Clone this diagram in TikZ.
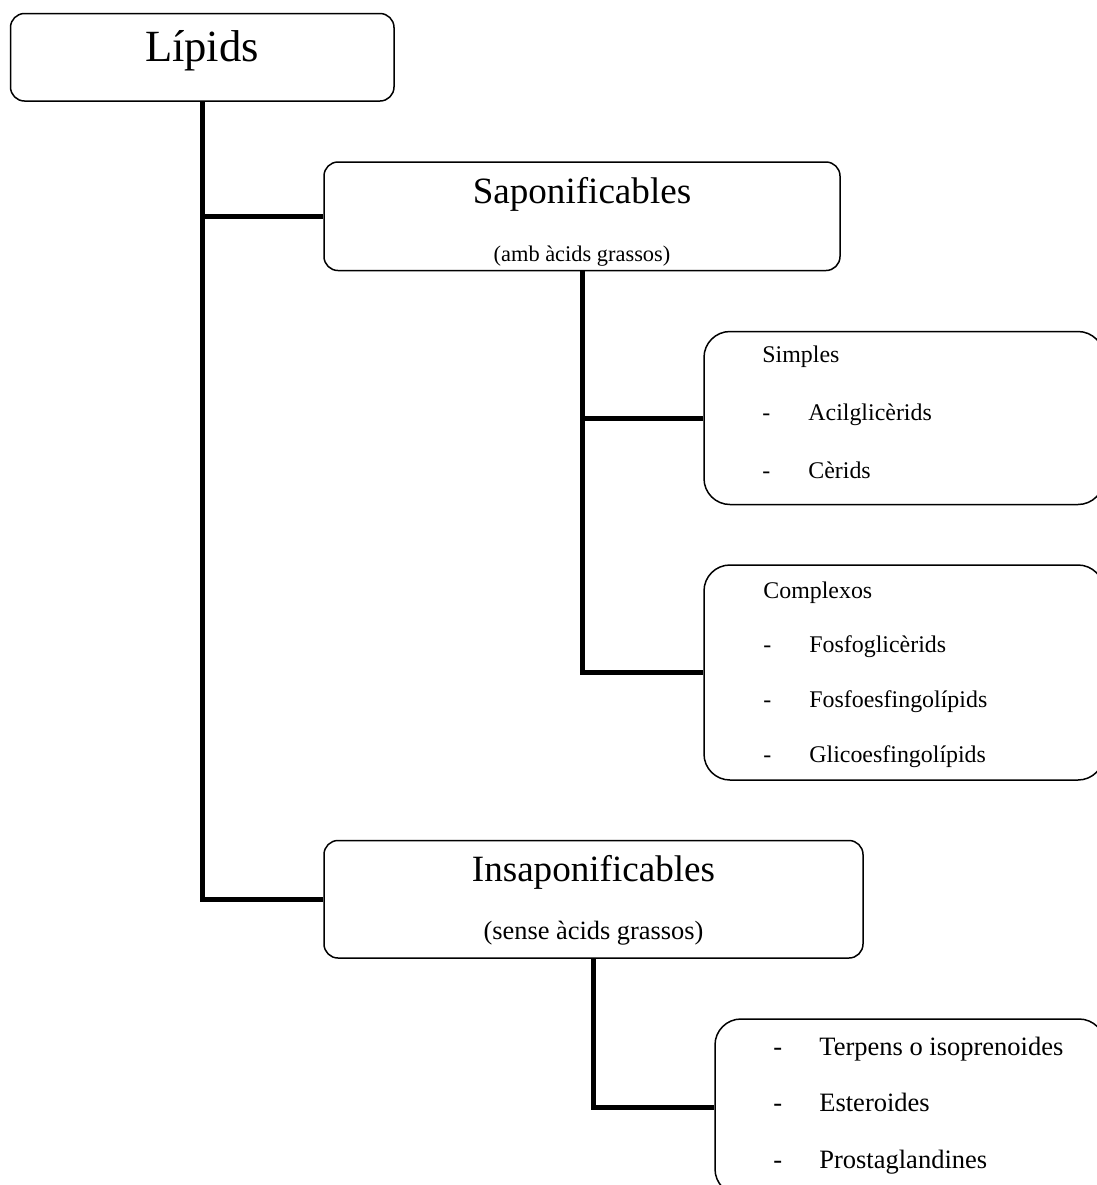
\documentclass[tikz,border=0pt]{standalone}
\usepackage{fontspec}
\setmainfont{Liberation Serif}
\usetikzlibrary{positioning}

\newcommand{\dashitem}[1]{\makebox[23pt][l]{-}#1}

\begin{document}
\begin{tikzpicture}[x=0.5pt, y=-0.5pt,
  box/.style={draw, line width=0.75pt, rounded corners=7pt, inner sep=0pt},
  listbox/.style={box, rounded corners=13pt},
  link/.style={line width=2.5pt},
  bigtitle/.style={anchor=base, font=\fontsize{22.3}{26}\selectfont},
  title/.style={anchor=base, font=\fontsize{18.55}{22}\selectfont},
  listtext/.style={anchor=base west, align=left, inner sep=0pt}]
\useasboundingbox (0,0) rectangle (1097,1185);
\clip (0,0) rectangle (1097,1185);

% boxes
\node[box, minimum width=191.75pt, minimum height=43.75pt] (lip) at (202.25,57.25) {};
\node[box, minimum width=258pt, minimum height=54.25pt] (sapo) at (582,216.25) {};
\node[listbox, minimum width=200pt, minimum height=86.5pt] (simp) at (904,418) {};
\node[listbox, minimum width=200pt, minimum height=107.5pt] (comp) at (904,672.5) {};
\node[box, minimum width=269.5pt, minimum height=58.75pt] (insap) at (593.5,899.25) {};
\node[listbox, minimum width=195pt, minimum height=88pt] (terp) at (910,1107) {};

% texts (list nodes are placed by the baseline of their last line)
\node[bigtitle] (liptxt) at (202,61) {Lípids};
\node[title] (saptxt) at (582,203) {Saponificables};
\node[anchor=base, font=\fontsize{11.2}{13}\selectfont] (sapsub) at (582,261) {(amb àcids grassos)};
\node[title] (insaptxt) at (593.5,881) {Insaponificables};
\node[anchor=base, font=\fontsize{13.2}{15}\selectfont] (insapsub) at (593.5,939) {(sense àcids grassos)};

\node[listtext, font=\fontsize{11.95}{29}\selectfont] (simptxt) at (762,478)
  {Simples\\\dashitem{Acilglicèrids}\\\dashitem{Cèrids}};
\node[listtext, font=\fontsize{11.95}{27.3}\selectfont] (comptxt) at (763,762)
  {Complexos\\\dashitem{Fosfoglicèrids}\\\dashitem{Fosfoesfingolípids}\\\dashitem{Glicoesfingolípids}};
\node[listtext, font=\fontsize{13.25}{28.25}\selectfont] (terptxt) at (773,1168)
  {\dashitem{Terpens o isoprenoides}\\\dashitem{Esteroides}\\\dashitem{Prostaglandines}};

% connectors
\draw[link] (lip.south) |- (insap.west);
\draw[link] (lip.south |- sapo.west) -- (sapo.west);
\draw[link] (sapo.south) |- (comp.west);
\draw[link] (sapo.south |- simp.west) -- (simp.west);
\draw[link] (insap.south) |- (terp.west);
\end{tikzpicture}
\end{document}
